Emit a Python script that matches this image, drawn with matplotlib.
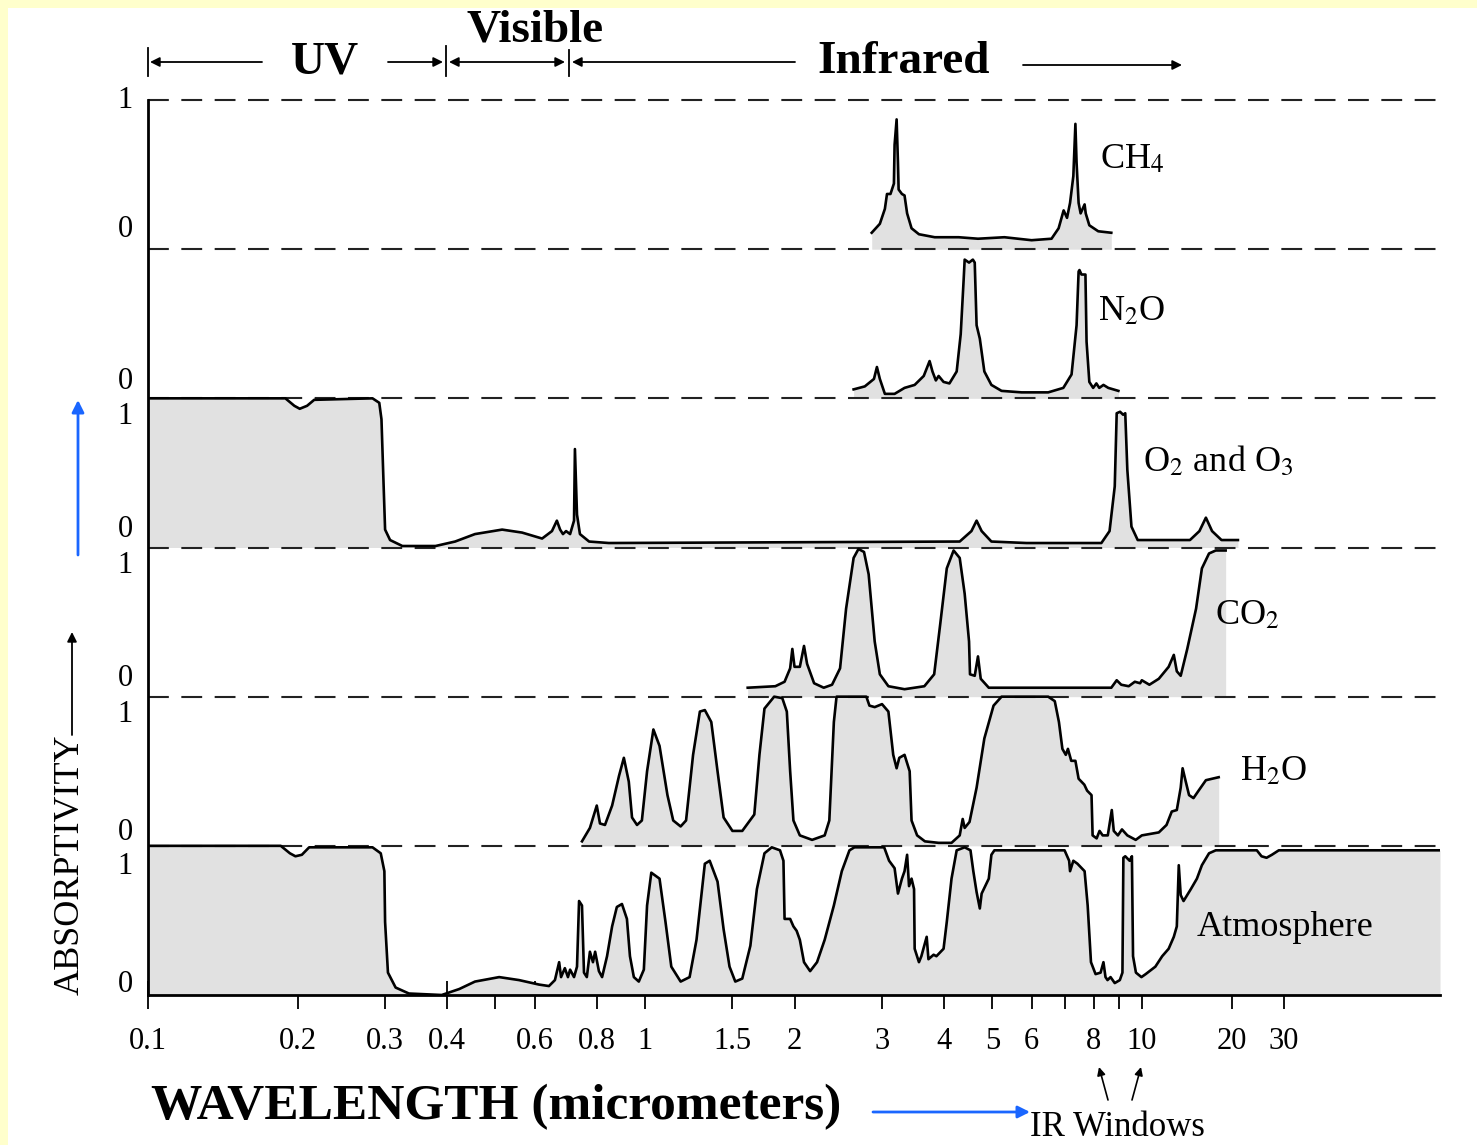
import numpy as np
import matplotlib.pyplot as plt
from matplotlib.patches import Rectangle
from matplotlib.lines import Line2D
from matplotlib.ticker import NullLocator

plt.rcParams['font.family'] = 'Liberation Serif'
plt.rcParams['mathtext.fontset'] = 'stix'

# ---- data (wavelength in micrometers, absorptivity 0..1) ----
lam_ch4 = [2.86, 2.97, 3.04, 3.07, 3.12, 3.17, 3.18, 3.21, 3.23, 3.24, 3.29, 3.33, 3.37, 3.44, 3.56,
           3.83, 4.28, 4.68, 5.29, 6.0, 6.58, 6.8, 6.96, 7.07, 7.17, 7.28, 7.35, 7.39, 7.46, 7.53,
           7.67, 7.71, 7.84, 8.17, 8.68]
abs_ch4 = [0.11, 0.17, 0.27, 0.37, 0.37, 0.44, 0.70, 0.87, 0.58, 0.40, 0.37, 0.36, 0.24, 0.14, 0.10,
           0.08, 0.08, 0.07, 0.08, 0.06, 0.07, 0.14, 0.26, 0.21, 0.31, 0.49, 0.84, 0.58, 0.31, 0.24,
           0.30, 0.24, 0.16, 0.12, 0.11]

lam_n2o = [2.63, 2.77, 2.89, 2.93, 2.97, 3.04, 3.18, 3.33, 3.49, 3.64, 3.70, 3.74, 3.79, 3.85, 3.90,
           3.99, 4.10, 4.24, 4.32, 4.38, 4.40, 4.49, 4.57, 4.61, 4.65, 4.72, 4.82, 4.98, 5.22, 5.73,
           6.48, 6.95, 7.22, 7.39, 7.46, 7.49, 7.56, 7.70, 7.74, 7.84, 7.98, 8.10, 8.21, 8.37, 8.56, 8.97]
abs_n2o = [0.06, 0.08, 0.13, 0.21, 0.13, 0.03, 0.03, 0.07, 0.09, 0.15, 0.21, 0.25, 0.18, 0.12, 0.15,
           0.11, 0.10, 0.18, 0.43, 0.80, 0.93, 0.91, 0.93, 0.91, 0.49, 0.40, 0.18, 0.09, 0.05, 0.04,
           0.04, 0.07, 0.16, 0.49, 0.85, 0.86, 0.83, 0.83, 0.38, 0.11, 0.07, 0.10, 0.07, 0.09, 0.07, 0.05]

lam_o3 = [0.1, 0.189, 0.197, 0.202, 0.209, 0.216, 0.283, 0.292, 0.295, 0.298,
          0.30, 0.307, 0.325, 0.379, 0.415, 0.455, 0.516, 0.566, 0.621, 0.650,
          0.665, 0.675, 0.684, 0.694, 0.707, 0.720, 0.723, 0.730, 0.740, 0.772,
          0.846, 4.30, 4.54, 4.65, 4.76, 4.98, 5.86, 8.29, 8.61, 8.82,
          8.90, 9.04, 9.17, 9.26, 9.35, 9.53, 9.81, 14.5, 15.6, 16.4,
          17.2, 18.5, 21.0]
abs_o3 = [1.0, 1.0, 0.95, 0.93, 0.95, 0.99, 1.0, 0.97, 0.86, 0.41,
          0.12, 0.05, 0.01, 0.01, 0.04, 0.09, 0.12, 0.10, 0.06, 0.11,
          0.18, 0.12, 0.09, 0.11, 0.09, 0.18, 0.66, 0.22, 0.09, 0.04,
          0.03, 0.04, 0.11, 0.18, 0.11, 0.04, 0.03, 0.03, 0.11, 0.41,
          0.90, 0.91, 0.89, 0.90, 0.52, 0.14, 0.05, 0.05, 0.11, 0.20,
          0.11, 0.05, 0.05]

lam_co2 = [1.61, 1.83, 1.91, 1.96, 1.98, 2.00, 2.05, 2.09, 2.12, 2.19,
           2.29, 2.38, 2.47, 2.54, 2.63, 2.69, 2.76, 2.82, 2.90, 2.97,
           3.09, 3.33, 3.65, 3.82, 3.93, 4.05, 4.18, 4.30, 4.40, 4.49,
           4.51, 4.61, 4.68, 4.74, 4.92, 8.68, 8.90, 9.09, 9.41, 9.68,
           9.92, 10.0, 10.6, 11.4, 12.3, 12.8, 13.1, 13.5, 14.2, 15.2,
           15.9, 16.8, 17.7, 19.1]
abs_co2 = [0.06, 0.07, 0.10, 0.19, 0.32, 0.20, 0.20, 0.34, 0.22, 0.09,
           0.06, 0.08, 0.19, 0.59, 0.93, 0.99, 0.97, 0.82, 0.37, 0.15,
           0.07, 0.05, 0.07, 0.15, 0.49, 0.86, 0.98, 0.93, 0.69, 0.37,
           0.15, 0.14, 0.27, 0.12, 0.06, 0.06, 0.11, 0.08, 0.07, 0.10,
           0.09, 0.11, 0.08, 0.12, 0.20, 0.28, 0.17, 0.14, 0.32, 0.59,
           0.86, 0.96, 0.98, 0.98]

lam_h2o = [0.747, 0.775, 0.80, 0.812, 0.831, 0.859, 0.887, 0.907, 0.928, 0.942,
           0.964, 0.986, 1.01, 1.04, 1.07, 1.11, 1.14, 1.18, 1.21, 1.25,
           1.29, 1.32, 1.36, 1.40, 1.44, 1.50, 1.57, 1.66, 1.70, 1.74,
           1.82, 1.89, 1.93, 1.96, 1.99, 2.05, 2.17, 2.30, 2.35, 2.40,
           2.43, 2.79, 2.83, 2.90, 3.0, 3.09, 3.16, 3.21, 3.25, 3.33,
           3.41, 3.44, 3.53, 3.66, 3.90, 4.14, 4.30, 4.36, 4.40, 4.50,
           4.65, 4.82, 5.03, 5.22, 6.48, 6.68, 6.81, 6.92, 7.03, 7.10,
           7.21, 7.35, 7.46, 7.66, 7.76, 7.92, 7.96, 8.11, 8.22, 8.34,
           8.54, 8.70, 8.78, 8.95, 9.12, 9.35, 9.72, 10.0, 11.4, 12.1,
           12.6, 13.1, 13.5, 13.7, 14.0, 14.4, 14.9, 15.5, 16.4, 18.1]
abs_h2o = [0.03, 0.12, 0.27, 0.15, 0.14, 0.27, 0.47, 0.59, 0.43, 0.19,
           0.14, 0.17, 0.50, 0.78, 0.67, 0.34, 0.17, 0.13, 0.17, 0.61,
           0.90, 0.91, 0.83, 0.50, 0.19, 0.10, 0.10, 0.21, 0.61, 0.92,
           1.0, 0.99, 0.90, 0.50, 0.17, 0.07, 0.04, 0.07, 0.17, 0.83,
           1.0, 1.0, 0.94, 0.93, 0.95, 0.90, 0.61, 0.52, 0.59, 0.61,
           0.50, 0.17, 0.07, 0.03, 0.02, 0.02, 0.07, 0.18, 0.12, 0.16,
           0.39, 0.72, 0.94, 1.0, 1.0, 0.97, 0.83, 0.65, 0.61, 0.65,
           0.57, 0.57, 0.45, 0.41, 0.37, 0.34, 0.07, 0.05, 0.10, 0.07,
           0.07, 0.24, 0.10, 0.07, 0.11, 0.07, 0.04, 0.07, 0.09, 0.14,
           0.23, 0.24, 0.39, 0.52, 0.44, 0.34, 0.32, 0.37, 0.44, 0.46]

lam_atm = [0.1, 0.185, 0.193, 0.198, 0.204, 0.211, 0.283, 0.294, 0.299, 0.30,
           0.304, 0.315, 0.335, 0.39, 0.423, 0.455, 0.509, 0.558, 0.612, 0.641,
           0.659, 0.672, 0.678, 0.69, 0.70, 0.707, 0.72, 0.73, 0.737, 0.747,
           0.754, 0.764, 0.775, 0.786, 0.794, 0.808, 0.82, 0.839, 0.859, 0.878,
           0.899, 0.920, 0.933, 0.95, 0.972, 0.995, 1.01, 1.03, 1.07, 1.10,
           1.13, 1.18, 1.23, 1.27, 1.32, 1.35, 1.40, 1.44, 1.48, 1.52,
           1.57, 1.63, 1.68, 1.74, 1.80, 1.87, 1.90, 1.91, 1.96, 1.99,
           2.02, 2.05, 2.09, 2.15, 2.22, 2.30, 2.40, 2.49, 2.58, 2.64,
           3.03, 3.10, 3.18, 3.23, 3.29, 3.33, 3.37, 3.40, 3.44, 3.48,
           3.49, 3.56, 3.60, 3.69, 3.72, 3.81, 3.86, 3.99, 4.05, 4.14,
           4.24, 4.40, 4.52, 4.58, 4.65, 4.72, 4.76, 4.92, 4.98, 5.05,
           5.22, 6.99, 7.14, 7.17, 7.28, 7.42, 7.67, 7.78, 7.90, 8.07,
           8.26, 8.37, 8.45, 8.53, 8.65, 8.82, 9.03, 9.14, 9.18, 9.26,
           9.45, 9.55, 9.60, 9.73, 9.98, 10.3, 11.1, 11.7, 12.3, 12.8,
           13.1, 13.3, 13.5, 13.8, 14.6, 15.3, 15.9, 16.8, 17.7, 24.3,
           25.2, 26.2, 27.3, 28.8, 100]
abs_atm = [1.0, 1.0, 0.95, 0.93, 0.94, 0.99, 0.99, 0.95, 0.83, 0.49,
           0.15, 0.05, 0.01, 0.0, 0.04, 0.09, 0.12, 0.10, 0.07, 0.06,
           0.10, 0.22, 0.12, 0.18, 0.12, 0.17, 0.12, 0.19, 0.63, 0.60,
           0.15, 0.12, 0.29, 0.22, 0.29, 0.16, 0.12, 0.26, 0.46, 0.59,
           0.61, 0.51, 0.26, 0.12, 0.09, 0.17, 0.60, 0.82, 0.78, 0.49,
           0.19, 0.09, 0.12, 0.37, 0.88, 0.90, 0.76, 0.44, 0.19, 0.09,
           0.11, 0.33, 0.71, 0.95, 0.99, 0.97, 0.90, 0.51, 0.51, 0.46,
           0.43, 0.37, 0.22, 0.16, 0.22, 0.37, 0.60, 0.83, 0.97, 0.99,
           0.99, 0.90, 0.85, 0.68, 0.78, 0.83, 0.94, 0.73, 0.78, 0.71,
           0.31, 0.22, 0.26, 0.39, 0.24, 0.27, 0.26, 0.31, 0.49, 0.78,
           0.97, 0.99, 0.97, 0.83, 0.69, 0.58, 0.68, 0.78, 0.94, 0.97,
           0.97, 0.97, 0.90, 0.83, 0.90, 0.88, 0.83, 0.60, 0.22, 0.14,
           0.15, 0.22, 0.12, 0.10, 0.12, 0.08, 0.10, 0.15, 0.92, 0.93,
           0.90, 0.93, 0.26, 0.15, 0.12, 0.14, 0.19, 0.26, 0.31, 0.39,
           0.46, 0.87, 0.67, 0.63, 0.71, 0.78, 0.87, 0.95, 0.97, 0.97,
           0.93, 0.92, 0.94, 0.97, 0.97]

tick_vals = [0.1, 0.2, 0.3, 0.4, 0.5, 0.6, 0.8, 1, 1.5, 2, 3, 4, 5, 6, 7, 8, 9, 10, 20, 30]
tick_txt = ['0.1', '0.2', '0.3', '0.4', '', '0.6', '0.8', '1', '1.5', '2', '3', '4', '5', '6',
            '', '8', '', '10', '20', '30']

# panels stacked bottom to top
panels = [(lam_atm, abs_atm, 0), (lam_h2o, abs_h2o, 1), (lam_co2, abs_co2, 2),
          (lam_o3, abs_o3, 3), (lam_n2o, abs_n2o, 4), (lam_ch4, abs_ch4, 5)]


# log axis up to 10 um, compressed log beyond (as in the original figure)
def fwd(x):
    x = np.clip(np.asarray(x, dtype=float), 1e-6, None)
    lx = np.log10(x)
    return np.where(lx <= 1, lx, 1 + 0.6 * (lx - 1))


def inv(u):
    u = np.asarray(u, dtype=float)
    return np.where(u <= 1, 10.0 ** u, 10.0 ** (1 + (u - 1) / 0.6))


W, H = 1477, 1145


def px(x, y):
    return x / W, 1 - y / H


fig = plt.figure(figsize=(W / 100, H / 100), dpi=100, facecolor='#ffffcc')
fig.add_artist(Rectangle((8 / W, 0), 1, 1 - 8 / H, transform=fig.transFigure,
                         facecolor='white', edgecolor='none', zorder=-10))

ax = fig.add_axes([148 / W, 1 - 995 / H, (1440 - 148) / W, (995 - 100) / H])
ax.set_facecolor('none')
ax.set_xscale('function', functions=(fwd, inv))
ax.set_xlim(0.1, 100)
ax.set_ylim(0, 6)

fill = '#e1e1e1'
for lam, a, k in panels:
    y = k + np.array(a)
    ax.fill_between(lam, k, y, color=fill, lw=0, zorder=2)
    ax.plot(lam, y, color='black', lw=1.9, zorder=3, solid_joinstyle='round')

for k in range(1, 7):
    ax.axhline(k, color='#222222', lw=1.5, dashes=(10, 6), zorder=2.5, clip_on=False)

for s in ['top', 'right']:
    ax.spines[s].set_visible(False)
for s in ['left', 'bottom']:
    ax.spines[s].set_linewidth(2)

ax.set_xticks(tick_vals)
ax.set_xticklabels(tick_txt)
ax.xaxis.set_minor_locator(NullLocator())
ax.tick_params(axis='x', direction='inout', length=20, width=1.3, labelsize=22, pad=13)
ax.set_yticks([])

# 0 / 1 labels for each panel
ylab_pos = [6.0, 5.13, 4.11, 3.88, 3.12, 2.88, 2.12, 1.88, 1.09, 0.86, 0.07]
ylab_txt = ['1', '0', '0', '1', '0', '1', '0', '1', '0', '1', '0']
for p, t in zip(ylab_pos, ylab_txt):
    ax.text(-23 / 1292, p, t, transform=ax.get_yaxis_transform(), ha='center', va='center',
            fontsize=22)

# gas names
names = [('CH$_4$', 1100, 160), ('N$_2$O', 1098, 312), ('O$_2$ and O$_3$', 1143, 462),
         ('CO$_2$', 1215, 616), ('H$_2$O', 1240, 772), ('Atmosphere', 1197, 927)]
for t, x, y in names:
    fig.text(*px(x, y), t, ha='left', va='center', fontsize=26)


def arrow(x0, y0, x1, y1, color='black', lw=1.3, ms=14, style='-|>'):
    ax.annotate('', xy=(x1, H - y1), xytext=(x0, H - y0), xycoords='figure pixels',
                textcoords='figure pixels', annotation_clip=False,
                arrowprops=dict(arrowstyle=style, color=color, lw=lw, mutation_scale=ms,
                                shrinkA=0, shrinkB=0))


def bar(x, y0, y1):
    fig.add_artist(Line2D([x / W, x / W], [1 - y0 / H, 1 - y1 / H], transform=fig.transFigure,
                          color='black', lw=1.3))


# spectral regions on top
fig.text(*px(325, 62), 'UV', ha='center', va='center', fontsize=34, fontweight='bold')
fig.text(*px(535, 30), 'Visible', ha='center', va='center', fontsize=34, fontweight='bold')
fig.text(*px(904, 62), 'Infrared', ha='center', va='center', fontsize=34, fontweight='bold')
bar(148, 48, 76)
arrow(262, 62, 150, 62)
arrow(388, 62, 443, 62)
bar(446, 46, 76)
arrow(449, 62, 565, 62, style='<|-|>')
bar(569, 50, 76)
arrow(795, 62, 572, 62)
arrow(1023, 65, 1182, 65)

# y label
fig.text(*px(70, 865), 'ABSORPTIVITY', rotation=90, ha='center', va='center', fontsize=26)
arrow(72, 735, 72, 632)
arrow(78, 555, 78, 400, color='#1a66ff', lw=2, ms=18)

# x label and IR windows
fig.text(*px(496, 1107), 'WAVELENGTH (micrometers)', ha='center', va='center',
         fontsize=37, fontweight='bold')
arrow(873, 1112, 1030, 1112, color='#1a66ff', lw=2, ms=18)
fig.text(*px(1030, 1127), 'IR Windows', ha='left', va='center', fontsize=25)
arrow(1108, 1100, 1099, 1067, lw=1.2, ms=12)
arrow(1132, 1100, 1141, 1067, lw=1.2, ms=12)

fig.savefig('out.png', dpi=100, facecolor=fig.get_facecolor())
